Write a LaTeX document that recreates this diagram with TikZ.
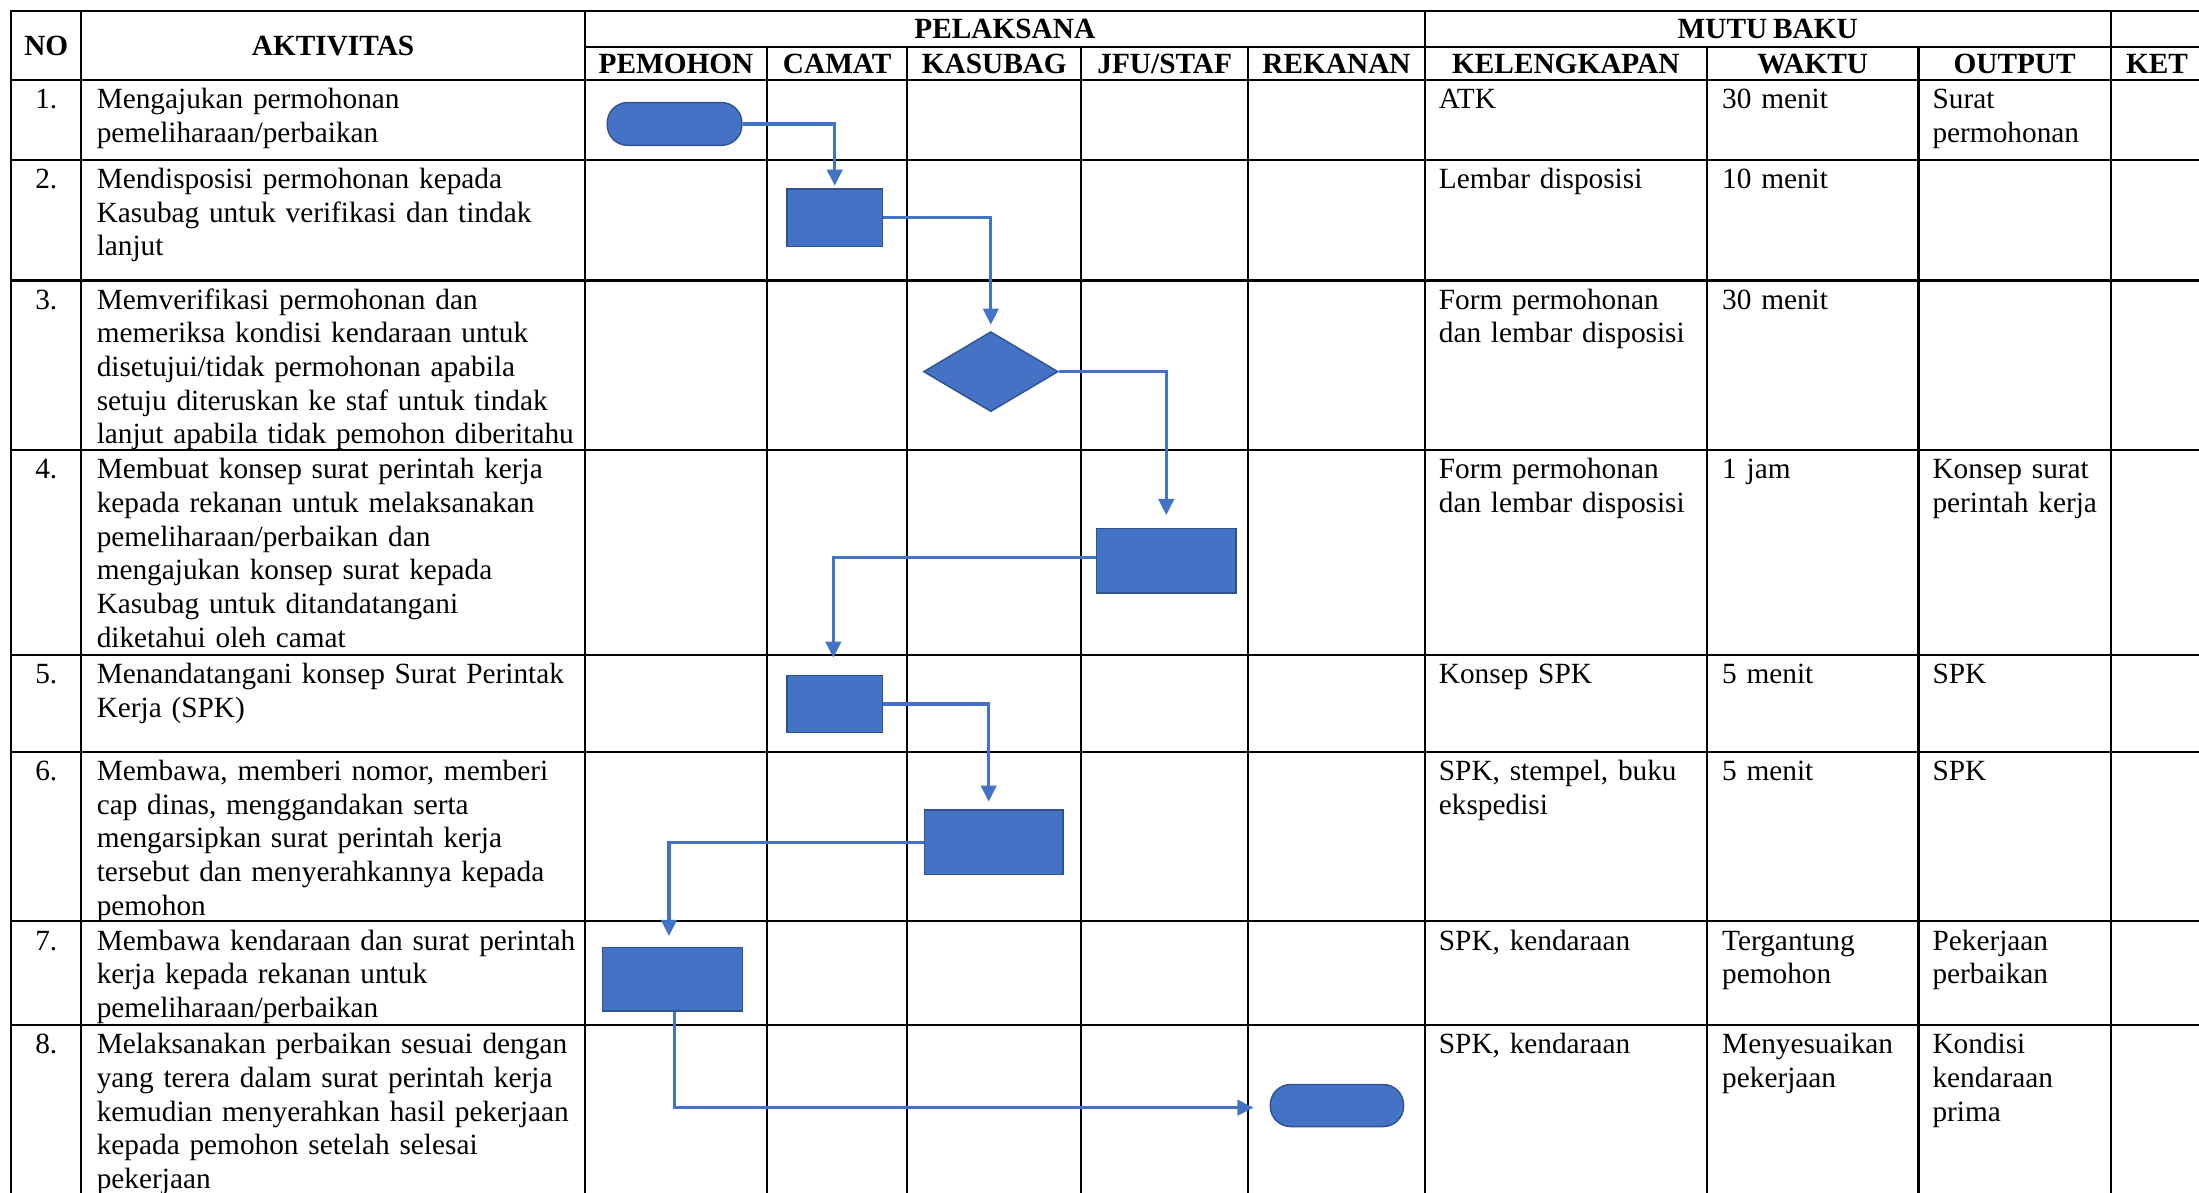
\documentclass[tikz,border=0pt]{standalone}
\usepackage{fontspec}
\setmainfont{Liberation Serif}[WordSpace=0.8]
\usetikzlibrary{arrows.meta,shapes.geometric}
\definecolor{flowblue}{HTML}{4472C4}
\definecolor{flowedge}{HTML}{2F528F}
\begin{document}
\begin{tikzpicture}[x=1pt,y=-1pt,
  gridline/.style={line width=1.5pt,line cap=rect},
  body/.style={font=\fontsize{20.9}{24}\selectfont,inner sep=0pt,outer sep=0pt,text width=360pt,align=left,anchor=base west},
  numtxt/.style={font=\fontsize{20.9}{24}\selectfont,inner sep=0pt,anchor=base},
  head/.style={font=\bfseries\fontsize{20.9}{24}\selectfont,inner sep=0pt,anchor=base},
  procbox/.style={rectangle,draw=flowedge,fill=flowblue,line width=1pt,inner sep=0pt},
  termbox/.style={rectangle,rounded corners=14.5pt,draw=flowedge,fill=flowblue,line width=1pt,inner sep=0pt},
  decbox/.style={diamond,draw=flowedge,fill=flowblue,line width=1pt,inner sep=0pt},
  flow/.style={draw=flowblue,line width=2.2pt,-{Triangle[length=11.5pt,width=11pt]}}
]
\useasboundingbox (0,0) rectangle (1568,850);
\fill[white] (0,0) rectangle (1568,850);

% ---------- grid ----------
\foreach \x in {8,58,417,1016,1505} \draw[gridline] (\x,8) -- (\x,870);
\foreach \x in {547,647,771,890,1217,1368} \draw[gridline] (\x,33.5) -- (\x,870);
\draw[gridline] (417,33.5) -- (1590,33.5);
\foreach \y in {8,57,114,200,321,467,536,657,731} \draw[gridline] (8,\y) -- (1590,\y);

% ---------- headers ----------
\node[head] (hno) at (33,39.5) {NO};
\node[head] (hakt) at (237.5,39.5) {AKTIVITAS};
\node[head] (hpel) at (716.5,27.8) {PELAKSANA};
\node[head] (hmutu) at (1260.5,27.8) {MUTU BAKU};
\node[head] (hpem) at (482,52.5) {PEMOHON};
\node[head] (hcam) at (597,52.5) {CAMAT};
\node[head] (hkas) at (709,52.5) {KASUBAG};
\node[head] (hjfu) at (830.5,52.5) {JFU/STAF};
\node[head] (hrek) at (953,52.5) {REKANAN};
\node[head] (hkel) at (1116.5,52.5) {KELENGKAPAN};
\node[head] (hwak) at (1292.5,52.5) {WAKTU};
\node[head] (hout) at (1436.5,52.5) {OUTPUT};
\node[head] (hket) at (1538,52.5) {KET};

% ---------- row 1 ----------
\node[numtxt] (n1) at (33,77.5) {1.};
\node[body] (a1) at (69,77.5) {Mengajukan permohonan\\pemeliharaan/perbaikan};
\node[body] (k1) at (1026,77.5) {ATK};
\node[body] (w1) at (1228,77.5) {30 menit};
\node[body] (o1) at (1378,77.5) {Surat\\permohonan};
% ---------- row 2 ----------
\node[numtxt] (n2) at (33,134.5) {2.};
\node[body] (a2) at (69,134.5) {Mendisposisi permohonan kepada\\Kasubag untuk verifikasi dan tindak\\lanjut};
\node[body] (k2) at (1026,134.5) {Lembar disposisi};
\node[body] (w2) at (1228,134.5) {10 menit};
% ---------- row 3 ----------
\node[numtxt] (n3) at (33,220.5) {3.};
\node[body] (a3) at (69,220.5) {Memverifikasi permohonan dan\\memeriksa kondisi kendaraan untuk\\disetujui/tidak permohonan apabila\\setuju diteruskan ke staf untuk tindak\\lanjut apabila tidak pemohon diberitahu};
\node[body] (k3) at (1026,220.5) {Form permohonan\\dan lembar disposisi};
\node[body] (w3) at (1228,220.5) {30 menit};
% ---------- row 4 ----------
\node[numtxt] (n4) at (33,341.5) {4.};
\node[body] (a4) at (69,341.5) {Membuat konsep surat perintah kerja\\kepada rekanan untuk melaksanakan\\pemeliharaan/perbaikan dan\\mengajukan konsep surat kepada\\Kasubag untuk ditandatangani\\diketahui oleh camat};
\node[body] (k4) at (1026,341.5) {Form permohonan\\dan lembar disposisi};
\node[body] (w4) at (1228,341.5) {1 jam};
\node[body] (o4) at (1378,341.5) {Konsep surat\\perintah kerja};
% ---------- row 5 ----------
\node[numtxt] (n5) at (33,487.5) {5.};
\node[body] (a5) at (69,487.5) {Menandatangani konsep Surat Perintak\\Kerja (SPK)};
\node[body] (k5) at (1026,487.5) {Konsep SPK};
\node[body] (w5) at (1228,487.5) {5 menit};
\node[body] (o5) at (1378,487.5) {SPK};
% ---------- row 6 ----------
\node[numtxt] (n6) at (33,556.5) {6.};
\node[body] (a6) at (69,556.5) {Membawa, memberi nomor, memberi\\cap dinas, menggandakan serta\\mengarsipkan surat perintah kerja\\tersebut dan menyerahkannya kepada\\pemohon};
\node[body] (k6) at (1026,556.5) {SPK, stempel, buku\\ekspedisi};
\node[body] (w6) at (1228,556.5) {5 menit};
\node[body] (o6) at (1378,556.5) {SPK};
% ---------- row 7 ----------
\node[numtxt] (n7) at (33,677.5) {7.};
\node[body] (a7) at (69,677.5) {Membawa kendaraan dan surat perintah\\kerja kepada rekanan untuk\\pemeliharaan/perbaikan};
\node[body] (k7) at (1026,677.5) {SPK, kendaraan};
\node[body] (w7) at (1228,677.5) {Tergantung\\pemohon};
\node[body] (o7) at (1378,677.5) {Pekerjaan\\perbaikan};
% ---------- row 8 ----------
\node[numtxt] (n8) at (33,751.5) {8.};
\node[body] (a8) at (69,751.5) {Melaksanakan perbaikan sesuai dengan\\yang terera dalam surat perintah kerja\\kemudian menyerahkan hasil pekerjaan\\kepada pemohon setelah selesai\\pekerjaan};
\node[body] (k8) at (1026,751.5) {SPK, kendaraan};
\node[body] (w8) at (1228,751.5) {Menyesuaikan\\pekerjaan};
\node[body] (o8) at (1378,751.5) {Kondisi\\kendaraan\\prima};

% ---------- flow shapes ----------
\node[termbox,minimum width=96pt,minimum height=30.5pt] (t1) at (481,88.4) {};
\node[procbox,minimum width=68pt,minimum height=41pt] (r2) at (595.2,155.4) {};
\node[decbox,minimum width=96pt,minimum height=57pt] (d3) at (706.5,265) {};
\node[procbox,minimum width=99.5pt,minimum height=46pt] (r4) at (831.6,399.8) {};
\node[procbox,minimum width=68pt,minimum height=41pt] (r5) at (595.2,502) {};
\node[procbox,minimum width=99pt,minimum height=46pt] (r6) at (708.5,600.6) {};
\node[procbox,minimum width=99.5pt,minimum height=45.5pt] (r7) at (479.5,698.2) {};
\node[termbox,minimum width=95pt,minimum height=30pt] (t8) at (953.3,788.3) {};

% ---------- connectors ----------
\draw[flow,shorten >=2pt] (t1.east) -| (r2.north);
\draw[flow,shorten >=4.5pt] (r2.east) -| (d3.north);
\draw[flow,shorten >=9pt] (d3.east) -| (r4.north);
\draw[flow,shorten >=12pt] ([yshift=2pt]r4.west) -| ([xshift=-1pt]r5.north);
\draw[flow,shorten >=5.5pt] (r5.east) -| ([xshift=-3.5pt]r6.north);
\draw[flow,shorten >=7.5pt] (r6.west) -| ([xshift=-2.5pt]r7.north);
\draw[flow,shorten >=11.5pt] ([xshift=1.5pt]r7.south) |- ([yshift=-1.5pt]t8.west);
\end{tikzpicture}
\end{document}
